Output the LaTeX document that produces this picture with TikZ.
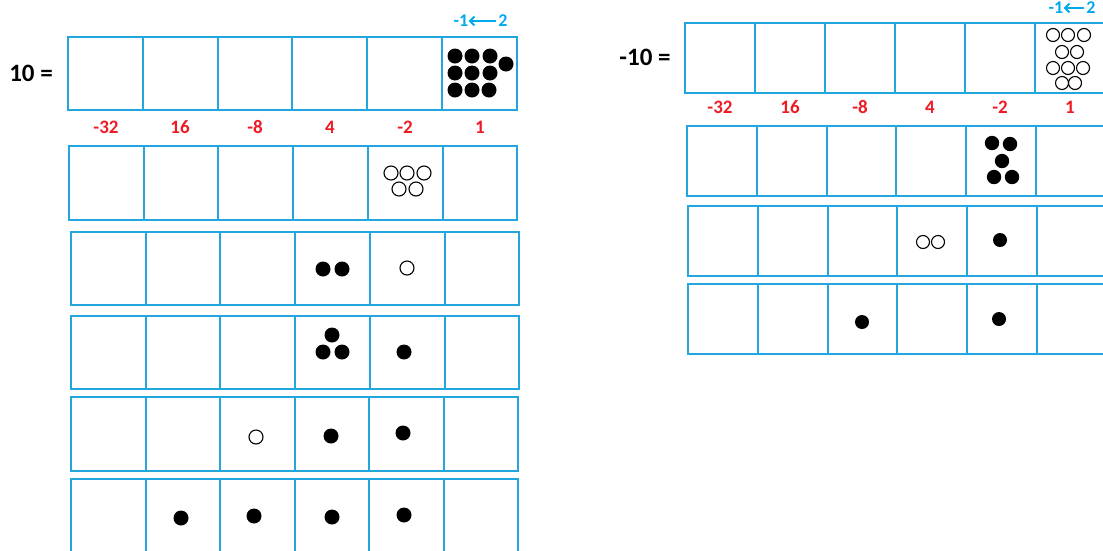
\documentclass[tikz,border=0pt]{standalone}
\usepackage{fontspec}
\setmainfont{Carlito}
\usetikzlibrary{arrows.meta}
\definecolor{cellblue}{RGB}{35,165,222}
\definecolor{lblred}{RGB}{237,28,36}
\definecolor{lblblue}{RGB}{0,170,235}
\tikzset{
  cell/.style={draw=cellblue, line width=2pt, inner sep=0pt, outer sep=0pt},
  bdot/.style={fill=black},
  odot/.style={draw=black, line width=1.1pt, fill=white},
  eqlabel/.style={font=\fontsize{25}{25}\selectfont\bfseries, text=black},
  weight/.style={font=\fontsize{19}{19}\selectfont\bfseries, text=lblred},
  swap/.style={font=\fontsize{18}{18}\selectfont\bfseries, text=lblblue, inner sep=0pt},
  swaparrow/.style={draw=lblblue, line width=2pt, -{Straight Barb[length=4.5pt,width=9pt]}}
}
\newcommand\cellrow[5]{%
  \foreach \i in {1,...,6}{%
    \node[cell, minimum width=#4pt, minimum height=#5pt] (#1-\i) at ({#2+(\i-0.5)*#4},{#3+#5/2}) {};
  }%
}
\begin{document}
\begin{tikzpicture}[x=1pt,y=-1pt]
\useasboundingbox (0,0) rectangle (1103,550);
\clip (0,0) rectangle (1103,550);
\fill[white] (0,0) rectangle (1103,550);

% ---------- left panel ----------
\node[eqlabel] (ten) at (31,73) {10 =};
\cellrow{L0}{68}{37}{74.8}{73}
\cellrow{L1}{69}{146}{74.7}{74}
\cellrow{L2}{71}{232}{74.7}{73}
\cellrow{L3}{71}{316}{74.7}{73}
\cellrow{L4}{71}{397}{74.5}{74}
\cellrow{L5}{71}{479}{74.5}{74}

\node[weight] (lw1) at (106,127) {-32};
\node[weight] (lw2) at (180,127) {16};
\node[weight] (lw3) at (255,127) {-8};
\node[weight] (lw4) at (330,127) {4};
\node[weight] (lw5) at (405,127) {-2};
\node[weight] (lw6) at (480,127) {1};

\node[swap] (lm1) at (461,21) {-1};
\node[swap] (ltwo) at (503,21) {2};
\draw[swaparrow] (ltwo.west) ++(-2,0) coordinate (la) (la) -- (lm1.east);

% dots left
\foreach \p in {(455,56),(472,56),(490,56),(506,64),(455,73),(472,73),(490,73),(455,90),(472,90),(489,90)}
  \fill[bdot] \p circle (7.5pt);
\foreach \p in {(391,173),(407,173),(424,173),(399,189),(416,189)}
  \draw[odot] \p circle (7pt);
\foreach \p in {(323,269),(342,269)} \fill[bdot] \p circle (7.5pt);
\draw[odot] (407,268) circle (7pt);
\foreach \p in {(332,335),(323,352),(342,352),(404,352)} \fill[bdot] \p circle (7.5pt);
\draw[odot] (256,437) circle (7pt);
\foreach \p in {(331,436),(403,433)} \fill[bdot] \p circle (7.5pt);
\foreach \p in {(181,518),(254,516),(332,517),(404,515)} \fill[bdot] \p circle (7.5pt);

% ---------- right panel ----------
\node[eqlabel] (mten) at (645,57) {-10 =};
\cellrow{R0}{685}{23}{70}{70}
\cellrow{R1}{687}{126}{69.8}{70}
\cellrow{R2}{688}{206}{69.8}{70}
\cellrow{R3}{688}{284}{69.8}{70}

\node[weight] (rw1) at (720,107) {-32};
\node[weight] (rw2) at (790,107) {16};
\node[weight] (rw3) at (860,107) {-8};
\node[weight] (rw4) at (930,107) {4};
\node[weight] (rw5) at (1000,107) {-2};
\node[weight] (rw6) at (1070,107) {1};

\node[swap] (rm1) at (1056,8) {-1};
\node[swap] (rtwo) at (1091,8) {2};
\draw[swaparrow] (rtwo.west) ++(-2,0) coordinate (ra) (ra) -- (rm1.east);

% dots right
\foreach \p in {(1053,35),(1068,35),(1084,35),(1062,52),(1077,52),(1053,68),(1068,68),(1083,68),(1062,83),(1075,83)}
  \draw[odot] \p circle (6.5pt);
\foreach \p in {(992,143),(1010,144),(1002,161),(994,177),(1012,177)} \fill[bdot] \p circle (7.2pt);
\foreach \p in {(923,242),(938,242)} \draw[odot] \p circle (6.5pt);
\fill[bdot] (1000,240) circle (7pt);
\foreach \p in {(862,322),(999,319)} \fill[bdot] \p circle (7pt);
\end{tikzpicture}
\end{document}
